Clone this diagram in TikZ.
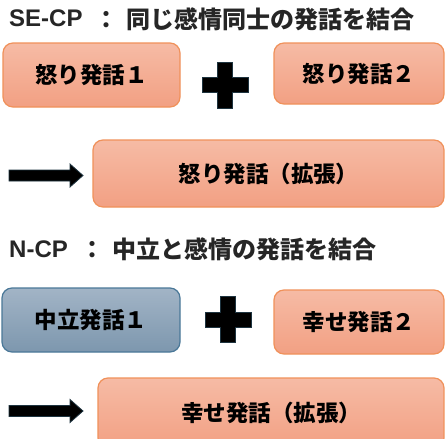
\documentclass[tikz,border=0pt]{standalone}
\usepackage{fontspec}
\setmainfont{Noto Sans CJK JP}
\newfontfamily\latinfont{Liberation Sans}
\definecolor{otop}{HTML}{F6BBA5}
\definecolor{obot}{HTML}{F2A083}
\definecolor{oline}{HTML}{F0915A}
\definecolor{btop}{HTML}{A2B4C6}
\definecolor{bbot}{HTML}{7D97AE}
\definecolor{bline}{HTML}{4A7898}
\definecolor{symline}{HTML}{1E3440}
\tikzset{
  obox/.style={rectangle, rounded corners=10pt, draw=oline, line width=1.2pt,
    top color=otop, bottom color=obot, inner sep=0pt,
    font=\fontsize{22.5}{26}\selectfont\bfseries, text=black},
  bbox/.style={obox, draw=bline, top color=btop, bottom color=bbot},
  ttl/.style={anchor=west, inner sep=0pt, font=\fontsize{24}{28}\selectfont\bfseries, text=black!85},
  ttllat/.style={anchor=west, inner sep=0pt, text=black!85, font=\latinfont\bfseries\fontsize{24}{28}\selectfont},
  ttlcol/.style={ttl, anchor=center},
  sym/.style={fill=black, draw=symline, line width=0.8pt}
}
\newcommand{\plussym}[2]{%
  \fill[sym] (#1-23,#2-7.5) -- (#1-7.5,#2-7.5) -- (#1-7.5,#2-23) -- (#1+7.5,#2-23)
    -- (#1+7.5,#2-7.5) -- (#1+23,#2-7.5) -- (#1+23,#2+7.5) -- (#1+7.5,#2+7.5)
    -- (#1+7.5,#2+23) -- (#1-7.5,#2+23) -- (#1-7.5,#2+7.5) -- (#1-23,#2+7.5) -- cycle;}
\newcommand{\arrowsym}[2]{%
  \fill[sym] (#1,#2-5.5) -- (#1+61,#2-5.5) -- (#1+61,#2-11.5) -- (#1+74,#2)
    -- (#1+61,#2+11.5) -- (#1+61,#2+5.5) -- (#1,#2+5.5) -- cycle;}
\begin{document}
\begin{tikzpicture}[x=1pt,y=-1pt]
\useasboundingbox (0,0) rectangle (445,439);
\clip (0,0) rectangle (445,439);
\fill[white] (0,0) rectangle (445,439);

\node[ttllat] (t1a) at (9,18.5) {SE-CP};
\node[ttlcol] (t1b) at (106,19.5) {：};
\node[ttl] (t1c) at (126,19.5) {同じ感情同士の発話を結合};
\node[obox, minimum width=177pt, minimum height=64pt] (a1) at (91.5,75) {怒り発話１};
\node[obox, minimum width=170pt, minimum height=61pt] (a2) at (359,73.5) {怒り発話２};
\plussym{225}{85}
\arrowsym{9}{175.5}
\node[obox, minimum width=351pt, minimum height=67pt] (a3) at (268.5,173.5) {怒り発話（拡張）};

\node[ttllat] (t2a) at (9,249) {N-CP};
\node[ttlcol] (t2b) at (92.5,249.5) {：};
\node[ttl] (t2c) at (112,249.5) {中立と感情の発話を結合};
\node[bbox, minimum width=178pt, minimum height=64pt] (b1) at (91,320) {中立発話１};
\node[obox, minimum width=170pt, minimum height=64pt] (b2) at (359,322) {幸せ発話２};
\plussym{228}{319.5}
\arrowsym{9}{411}
\node[obox, minimum width=346pt, minimum height=70pt] (b3) at (271,413) {幸せ発話（拡張）};
\end{tikzpicture}
\end{document}
